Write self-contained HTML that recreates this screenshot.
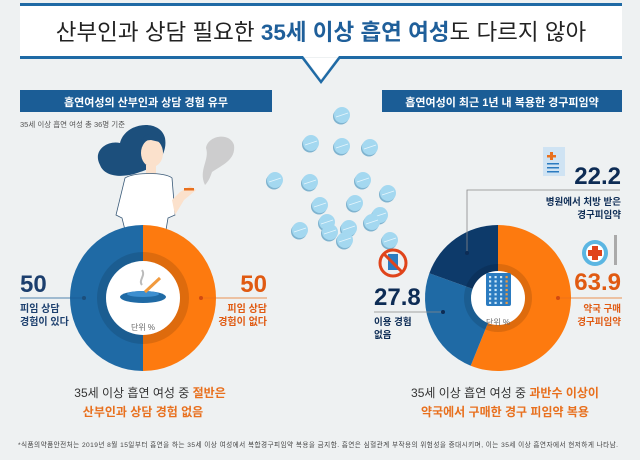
<!DOCTYPE html>
<html><head><meta charset="utf-8"><style>
html,body{margin:0;padding:0;background:#eef1f2;}
svg{display:block;font-family:"Liberation Sans","Noto Sans CJK KR",sans-serif;}
</style></head><body>
<svg width="640" height="460" viewBox="0 0 640 460" xmlns="http://www.w3.org/2000/svg">
<rect width="640" height="460" fill="#eef1f2"/>
<g>
<rect x="20" y="5" width="602" height="52" fill="#fff"/>
<rect x="20" y="3" width="602" height="3" fill="#1f6aa5"/>
<polygon points="20,56 303,56 321,80 339,56 622,56 622,59 340,59 321,84 302,59 20,59" fill="#1f6aa5"/>
<polygon points="305,58 321,79 337,58" fill="#fff"/>
<text x="321" y="40" text-anchor="middle" font-size="22.5" fill="#222">산부인과 상담 필요한 <tspan fill="#1f5f9a" font-weight="bold">35세 이상 흡연 여성</tspan>도 다르지 않아</text>
</g>
<rect x="20" y="90" width="252" height="22" fill="#1b5d96"/>
<text x="146" y="106" text-anchor="middle" font-size="11" font-weight="bold" fill="#fff">흡연여성의 산부인과 상담 경험 유무</text>
<rect x="382" y="90" width="240" height="22" fill="#1b5d96"/>
<text x="502" y="106" text-anchor="middle" font-size="11" font-weight="bold" fill="#fff">흡연여성이 최근 1년 내 복용한 경구피임약</text>
<text x="20" y="127" font-size="7.5" fill="#555">35세 이상 흡연 여성 총 36명 기준</text>
<g>
<path d="M100,165 C92,150 108,140 120,143 C125,122 160,118 165,138 C168,155 155,168 140,172 C125,178 105,178 100,165 Z" fill="#1c4f7c"/>
<ellipse cx="152" cy="153" rx="11" ry="14" fill="#fbe1cc"/>
<path d="M141,141 C146,130 163,132 164,143 L151,140 Z" fill="#1c4f7c"/>
<rect x="146" y="165" width="10" height="12" fill="#fbe1cc"/>
<path d="M125,178 C135,172 165,172 172,178 L175,215 L168,218 L166,230 L125,230 L122,218 L116,215 Z" fill="#fff" stroke="#3a5a78" stroke-width="0.8"/>
<path d="M172,200 L180,192 L190,186 L196,190 L184,200 L175,215 Z" fill="#fbe1cc"/>
<rect x="184" y="188" width="10" height="2.5" fill="#e8701e"/>
<path d="M205,185 C198,170 210,160 206,148 C208,135 230,132 234,145 C236,160 222,165 212,172 C210,178 208,182 205,185 Z" fill="#c4c4c4" opacity="0.8"/>
</g>
<g id="pills"></g>
<g id="leftDonut"></g>
<g id="rightDonut"></g>
<line x1="20" y1="298" x2="85" y2="298" stroke="#1b5d96" stroke-width="0.8"/>
<circle cx="84" cy="298" r="2" fill="#1c4f7c"/>
<text x="20" y="292" font-size="24" font-weight="bold" fill="#1c3f6e">50</text>
<text x="20" y="312" font-size="10" fill="#1c3f6e" font-weight="bold">피임 상담</text>
<text x="20" y="325" font-size="10" fill="#1c3f6e" font-weight="bold">경험이 있다</text>
<line x1="200" y1="298" x2="267" y2="298" stroke="#e8701e" stroke-width="0.8"/>
<circle cx="201" cy="298" r="2" fill="#d24a10"/>
<text x="267" y="292" text-anchor="end" font-size="24" font-weight="bold" fill="#e05a12">50</text>
<text x="267" y="312" text-anchor="end" font-size="10" fill="#e05a12" font-weight="bold">피임 상담</text>
<text x="267" y="325" text-anchor="end" font-size="10" fill="#e05a12" font-weight="bold">경험이 없다</text>
<text x="143" y="330" text-anchor="middle" font-size="8" fill="#666">단위 %</text>
<g>
<ellipse cx="143" cy="297" rx="23" ry="6" fill="#1f6aa5"/>
<ellipse cx="143" cy="294" rx="16" ry="3" fill="#3d8fd0"/>
<line x1="145" y1="292" x2="160" y2="278" stroke="#f19a3e" stroke-width="3"/>
<path d="M142,285 C138,280 146,276 142,270" stroke="#bbb" stroke-width="2" fill="none"/>
</g>
<text x="150" y="397" text-anchor="middle" font-size="12" fill="#333">35세 이상 흡연 여성 중 <tspan fill="#e8701e" font-weight="bold">절반은</tspan></text>
<text x="143" y="416" text-anchor="middle" font-size="12" fill="#e8701e" font-weight="bold">산부인과 상담 경험 없음</text>
<polyline points="467,253 467,190 620,190" fill="none" stroke="#888" stroke-width="0.8"/>
<circle cx="467" cy="253" r="2" fill="#0d2c55"/>
<g>
<rect x="543" y="147" width="22" height="29" fill="#cfe3f3"/>
<rect x="550" y="152" width="3" height="8" fill="#e8701e"/><rect x="547" y="155" width="9" height="2.5" fill="#e8701e"/>
<rect x="547" y="163" width="12" height="1.5" fill="#2b7bc0"/><rect x="547" y="167" width="12" height="1.5" fill="#2b7bc0"/><rect x="547" y="171" width="12" height="1.5" fill="#2b7bc0"/>
</g>
<text x="621" y="184" text-anchor="end" font-size="24" font-weight="bold" fill="#0d2c55">22.2</text>
<text x="621" y="205" text-anchor="end" font-size="9.5" font-weight="bold" fill="#0d2c55">병원에서 처방 받은</text>
<text x="621" y="218" text-anchor="end" font-size="9.5" font-weight="bold" fill="#0d2c55">경구피임약</text>
<g>
<circle cx="595" cy="253" r="13" fill="#5bb6e2"/><circle cx="595" cy="253" r="9" fill="#fff"/>
<rect x="592" y="246" width="6" height="14" fill="#e0441b"/><rect x="588" y="250" width="14" height="6" fill="#e0441b"/>
<rect x="614" y="235" width="3" height="30" fill="#aaa"/>
</g>
<text x="621" y="290" text-anchor="end" font-size="24" font-weight="bold" fill="#e05a12">63.9</text>
<line x1="558" y1="298" x2="622" y2="298" stroke="#e8701e" stroke-width="0.8"/>
<circle cx="558" cy="298" r="2" fill="#d24a10"/>
<text x="621" y="312" text-anchor="end" font-size="9.5" font-weight="bold" fill="#e05a12">약국 구매</text>
<text x="621" y="325" text-anchor="end" font-size="9.5" font-weight="bold" fill="#e05a12">경구피임약</text>
<g>
<circle cx="393" cy="263" r="13" fill="none" stroke="#e0441b" stroke-width="3"/>
<rect x="388" y="254" width="10" height="16" fill="#2b7bc0"/>
<line x1="384" y1="254" x2="402" y2="272" stroke="#e0441b" stroke-width="3"/>
</g>
<text x="374" y="305" font-size="24" font-weight="bold" fill="#0d2c55">27.8</text>
<line x1="374" y1="312" x2="443" y2="312" stroke="#888" stroke-width="0.8"/>
<circle cx="443" cy="312" r="2" fill="#0d2c55"/>
<text x="374" y="325" font-size="9.5" font-weight="bold" fill="#0d2c55">이용 경험</text>
<text x="374" y="338" font-size="9.5" font-weight="bold" fill="#0d2c55">없음</text>
<g>
<rect x="486" y="273" width="25" height="33" rx="2" fill="#2b7bc0"/>
</g>
<g id="packDots"></g>
<text x="498" y="325" text-anchor="middle" font-size="8" fill="#666">단위 %</text>
<text x="505" y="397" text-anchor="middle" font-size="12" fill="#333">35세 이상 흡연 여성 중 <tspan fill="#e8701e" font-weight="bold">과반수 이상이</tspan></text>
<text x="505" y="416" text-anchor="middle" font-size="12" fill="#e8701e" font-weight="bold">약국에서 구매한 경구 피임약 복용</text>
<text x="18" y="447" font-size="6.6" fill="#444" textLength="600">*식품의약품안전처는 2019년 8월 15일부터 흡연을 하는 35세 이상 여성에서 복합경구피임약 복용을 금지함. 흡연은 심혈관계 부작용의 위험성을 증대시키며, 이는 35세 이상 흡연자에서 현저하게 나타남.</text>
</svg>
<script>
const leftCategories = ['피임 상담 경험이 있다', '피임 상담 경험이 없다'];
const leftValues = [50, 50];
const rightCategories = ['약국 구매 경구피임약', '이용 경험 없음', '병원에서 처방 받은 경구피임약'];
const rightValues = [63.9, 27.8, 22.2];
const NS = 'http://www.w3.org/2000/svg';
function arc(cx, cy, r0, r1, a0, a1) {
  const p = (r, a) => [cx + r * Math.sin(a), cy - r * Math.cos(a)];
  const large = (a1 - a0) > Math.PI ? 1 : 0;
  const [x0, y0] = p(r1, a0), [x1, y1] = p(r1, a1), [x2, y2] = p(r0, a1), [x3, y3] = p(r0, a0);
  return `M${x0},${y0}A${r1},${r1} 0 ${large} 1 ${x1},${y1}L${x2},${y2}A${r0},${r0} 0 ${large} 0 ${x3},${y3}Z`;
}
function donut(gid, cx, cy, r0, r1, values, colors, startAngle, dir, innerR, ringR) {
  const g = document.getElementById(gid);
  const total = values.reduce((a, b) => a + b, 0);
  let a = startAngle;
  values.forEach((v, i) => {
    const span = v / total * 2 * Math.PI * dir;
    const a0 = Math.min(a, a + span), a1 = Math.max(a, a + span);
    const path = document.createElementNS(NS, 'path');
    path.setAttribute('d', arc(cx, cy, r0, r1, a0, a1));
    path.setAttribute('fill', colors[i]);
    
    
    g.appendChild(path);
    a += span;
  });
  const ring = document.createElementNS(NS, 'circle');
  ring.setAttribute('cx', cx); ring.setAttribute('cy', cy); ring.setAttribute('r', ringR);
  ring.setAttribute('fill', 'rgba(0,0,0,0.12)');
  g.appendChild(ring);
  const c = document.createElementNS(NS, 'circle');
  c.setAttribute('cx', cx); c.setAttribute('cy', cy); c.setAttribute('r', innerR);
  c.setAttribute('fill', '#fff');
  
  
  g.appendChild(c);
}
donut('leftDonut', 143, 298, 0, 73, leftValues.slice().reverse(), ['#fd7a0f', '#1f6aa5'], 0, 1, 37, 46);
donut('rightDonut', 498, 298, 0, 73, rightValues, ['#fd7a0f', '#1f6aa5', '#0d3a6a'], 0, 1, 27, 34);
const pills = [[342,115],[311,143],[342,146],[370,147],[275,180],[310,182],[363,180],[388,193],[355,203],[380,215],[327,222],[349,228],[372,222],[345,240],[330,232],[320,205],[300,230],[390,240]];
const pg = document.getElementById('pills');
pills.forEach(([x, y]) => {
  const s = document.createElementNS(NS, 'circle');
  s.setAttribute('cx', x - 1); s.setAttribute('cy', y + 1.5); s.setAttribute('r', 8);
  s.setAttribute('fill', '#7fb3cf');
  pg.appendChild(s);
  const c = document.createElementNS(NS, 'circle');
  c.setAttribute('cx', x); c.setAttribute('cy', y); c.setAttribute('r', 8);
  c.setAttribute('fill', '#a4d8f0');
  
  
  pg.appendChild(c);
  const l = document.createElementNS(NS, 'line');
  l.setAttribute('x1', x - 6); l.setAttribute('y1', y + 2); l.setAttribute('x2', x + 6); l.setAttribute('y2', y - 2);
  l.setAttribute('stroke', '#e6f5fc'); l.setAttribute('stroke-width', '0.8');
  pg.appendChild(l);
});
const dg = document.getElementById('packDots');
for (let r = 0; r < 7; r++) for (let k = 0; k < 4; k++) {
  const d = document.createElementNS(NS, 'rect');
  d.setAttribute('x', 489 + k * 5.5); d.setAttribute('y', 276 + r * 4.3);
  d.setAttribute('width', 2.2); d.setAttribute('height', 2.2);
  d.setAttribute('fill', k === 3 ? '#f19a3e' : '#cfe8f7');
  dg.appendChild(d);
}
</script>
</body></html>
